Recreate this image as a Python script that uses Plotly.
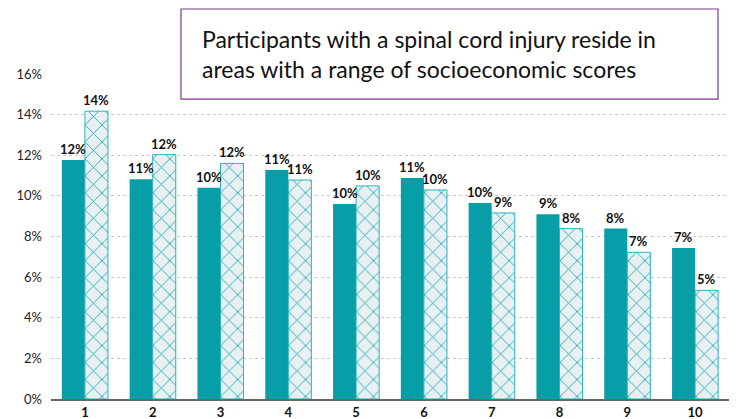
import plotly.graph_objects as go

categories = ["1", "2", "3", "4", "5", "6", "7", "8", "9", "10"]
series_a = [11.77, 10.82, 10.40, 11.28, 9.60, 10.88, 9.65, 9.09, 8.39, 7.43]
series_b = [14.17, 12.03, 11.60, 10.78, 10.49, 10.29, 9.16, 8.39, 7.22, 5.35]
y_ticks = [0, 2, 4, 6, 8, 10, 12, 14, 16]
y_tick_labels = [f"{v}%" for v in y_ticks]
title_text = "Participants with a spinal cord injury reside in<br>areas with a range of socioeconomic scores"

FONT = "Lato"
TEAL = "#079ea8"

fig = go.Figure()
fig.add_trace(go.Bar(
    x=categories, y=series_a, name="A",
    marker=dict(color=TEAL, line=dict(width=0)),
))
fig.add_trace(go.Bar(
    x=categories, y=series_b, name="B",
    marker=dict(
        color="#e9f0f2",
        line=dict(color="#2bb3c0", width=1),
        pattern=dict(shape="x", fgcolor="#19a9b7", bgcolor="#e9f0f2",
                     size=12, solidity=0.14, fillmode="replace"),
    ),
))

# value labels above each bar; on a category axis annotations use the
# category's serial number, shifted left/right to sit over the grouped bars
label_annotations = []
for series, shift in ((series_a, -11.5), (series_b, 11.5)):
    for idx, val in enumerate(series):
        label_annotations.append(dict(
            x=idx, y=val, xref="x", yref="y", xshift=shift, yshift=1,
            text=f"<b>{round(val)}%</b>", showarrow=False,
            xanchor="center", yanchor="bottom",
            font=dict(family=FONT, size=13, color="#111"),
        ))

# page body has an 8px default margin, so the figure is sized to fit in the window
fig.update_layout(
    width=729, height=411,
    margin=dict(l=43, r=8, t=66, b=20, autoexpand=False),
    paper_bgcolor="white", plot_bgcolor="white",
    barmode="group", bargap=0.32, bargroupgap=0,
    showlegend=False,
    font=dict(family=FONT, size=13, color="#222"),
    xaxis=dict(
        type="category", categoryorder="array", categoryarray=categories,
        range=[-0.5, len(categories) - 0.5],
        showline=True, linecolor="#666", linewidth=2,
        showgrid=False, ticks="", automargin=False,
        tickfont=dict(family=FONT, size=13, color="#111", weight="bold"),
    ),
    yaxis=dict(
        range=[0, 16], tickvals=y_ticks, ticktext=y_tick_labels,
        showgrid=True, gridcolor="#c8c8c8", griddash="dot", gridwidth=1,
        zeroline=False, showline=False, ticks="", automargin=False,
        ticklabelstandoff=8,
        tickfont=dict(family=FONT, size=13, color="#222"),
    ),
    shapes=[dict(
        type="rect", xref="paper", yref="paper",
        x0=0.1917, x1=0.9838, y0=0.923, y1=1.20,
        line=dict(color="#7a3b8a", width=1.2), fillcolor="white", layer="above",
    )],
    annotations=label_annotations + [dict(
        text=title_text, xref="paper", yref="paper",
        x=0.2195, y=1.063, xanchor="left", yanchor="middle", align="left",
        showarrow=False, font=dict(family=FONT, size=23, color="#111"),
    )],
)

fig.write_html("out.html")
